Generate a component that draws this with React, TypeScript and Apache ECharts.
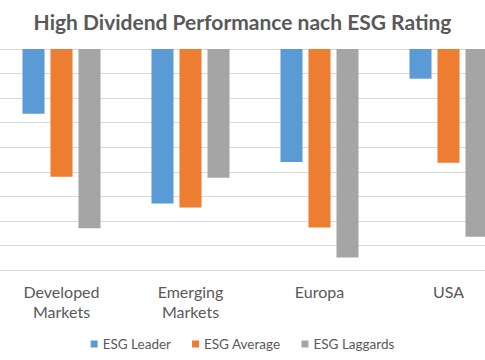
import React, { useEffect, useRef } from "react";
import * as echarts from "echarts";

const categories = ["Developed\nMarkets", "Emerging\nMarkets", "Europa", "USA"];
const esgLeader = [-2.64, -6.29, -4.6, -1.21];
const esgAverage = [-5.2, -6.45, -7.27, -4.63];
const esgLaggards = [-7.3, -5.24, -8.49, -7.65];
const seriesNames = ["ESG Leader", "ESG Average", "ESG Laggards"];
const colors = ["#5B9BD5", "#ED7D31", "#A5A5A5"];

export default function App() {
  const ref = useRef<HTMLDivElement>(null);
  useEffect(() => {
    if (!ref.current) return;
    const chart = echarts.init(ref.current, null, { renderer: "svg" });
    const font = "Lato, 'Open Sans', sans-serif";
    const data = [esgLeader, esgAverage, esgLaggards];
    chart.setOption({
      animation: false,
      textStyle: { fontFamily: font },
      title: {
        text: "High Dividend Performance nach ESG Rating",
        left: "center",
        top: 6,
        textStyle: { fontSize: 21, fontWeight: "bold", color: "#595959", fontFamily: font },
      },
      legend: {
        bottom: 4,
        left: "center",
        icon: "rect",
        itemWidth: 7,
        itemHeight: 7,
        itemGap: 21,
        textStyle: { fontSize: 13.5, color: "#595959", fontFamily: font },
        data: seriesNames,
      },
      grid: { left: -3, width: 516, top: 49, bottom: 90, outerBoundsMode: "none" },
      xAxis: {
        type: "category",
        data: categories,
        position: "bottom",
        axisLine: { show: false, onZero: false },
        axisTick: { show: false },
        axisLabel: {
          margin: 11,
          fontSize: 16,
          lineHeight: 20,
          color: "#595959",
          fontFamily: font,
        },
      },
      yAxis: {
        type: "value",
        min: -9,
        max: 0,
        interval: 1,
        axisLabel: { show: false },
        axisLine: { show: false },
        axisTick: { show: false },
        splitLine: { lineStyle: { color: "#D9D9D9", width: 1 } },
      },
      series: seriesNames.map((name, i) => ({
        name,
        type: "bar",
        data: data[i],
        barGap: "27%",
        barCategoryGap: "39.5%",
        itemStyle: { color: colors[i] },
      })),
    });
    return () => chart.dispose();
  }, []);
  return <div ref={ref} style={{ width: 485, height: 360, position: "absolute", left: 0, top: 0 }} />;
}
